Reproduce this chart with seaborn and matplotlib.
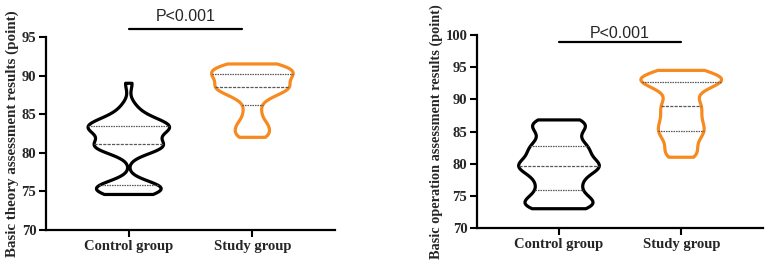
import pandas as pd
import matplotlib.pyplot as plt
import seaborn as sns

# scores (40 per group)
groups = ['Control group', 'Study group']

theory_control = [74.6, 74.8, 75.0, 75.2, 75.3, 75.4, 75.5, 75.6, 75.7, 75.7,
                  75.8, 80.2, 80.3, 80.5, 80.7, 80.9, 81.0, 80.9, 80.9, 80.9,
                  81.3, 81.8, 82.3, 82.6, 82.9, 83.0, 83.1, 83.2, 83.3, 83.4,
                  83.5, 83.6, 83.7, 83.9, 84.1, 84.4, 84.8, 85.4, 86.2, 89.0]
theory_study = [82.0, 82.1, 82.4, 82.8, 83.2, 83.5, 83.8, 84.3, 85.0, 85.6,
                86.4, 87.0, 87.3, 87.6, 87.8, 88.0, 88.2, 88.3, 88.4, 88.5,
                88.6, 88.8, 89.0, 89.2, 89.4, 89.6, 89.8, 89.9, 90.0, 90.1,
                90.3, 90.4, 90.6, 90.7, 90.9, 91.0, 91.1, 91.3, 91.4, 91.5]
oper_control = [73.0, 73.0, 73.2, 73.5, 73.8, 74.1, 74.3, 74.6, 75.0, 75.6,
                76.1, 76.6, 77.1, 77.6, 78.0, 78.5, 78.9, 79.2, 79.4, 79.5,
                79.7, 79.9, 80.2, 80.5, 80.9, 81.3, 81.7, 82.1, 82.4, 82.6,
                83.0, 83.5, 84.1, 84.8, 85.3, 85.7, 86.0, 86.4, 86.7, 86.8]
oper_study = [81.0, 81.2, 81.6, 82.1, 82.7, 83.3, 83.8, 84.3, 84.7, 85.0,
              85.2, 85.6, 86.0, 86.4, 86.8, 87.2, 87.6, 88.1, 88.6, 88.9,
              89.1, 89.6, 90.2, 90.8, 91.4, 91.8, 92.1, 92.4, 92.6, 92.7,
              92.8, 93.0, 93.2, 93.3, 93.4, 93.6, 93.8, 94.0, 94.3, 94.5]

theory_ticks = [70, 75, 80, 85, 90, 95]
oper_ticks = [70, 75, 80, 85, 90, 95, 100]
p_text = 'P<0.001'

colors = {'Control group': 'black', 'Study group': '#F7891F'}

def to_df(ctrl, study):
    return pd.DataFrame({'group': [groups[0]] * len(ctrl) + [groups[1]] * len(study),
                         'score': ctrl + study})

sns.set_style('ticks')
fig = plt.figure(figsize=(7.67, 2.63), dpi=100)
ax1 = fig.add_axes([0.060, 0.1255, 0.377, 0.734])
ax2 = fig.add_axes([0.622, 0.133, 0.373, 0.734])

panels = [
    (ax1, to_df(theory_control, theory_study), theory_ticks,
     'Basic theory assessment results (point)', 10.8, 96.0, 97.6, (0, 0.92)),
    (ax2, to_df(oper_control, oper_study), oper_ticks,
     'Basic operation assessment results (point)', 10.3, 98.9, 100.3, (0, 1.0)),
]

for ax, df, ticks, ylabel, ysize, bar_y, txt_y, bar_x in panels:
    sns.violinplot(data=df, x='group', y='score', hue='group', palette=colors,
                   fill=False, cut=0, bw_adjust=0.5, density_norm='width',
                   width=0.66, inner='quart', linewidth=2.3, legend=False,
                   inner_kws=dict(color='0.35', linewidth=0.9), ax=ax)
    ax.set_ylim(ticks[0], ticks[-1])
    ax.set_yticks(ticks)
    ax.set_xlim(-0.67, 1.67)
    ax.set_xlabel('')
    ax.set_ylabel(ylabel, family='Liberation Serif', weight='bold',
                  fontsize=ysize, labelpad=2)
    for lab in ax.get_xticklabels() + ax.get_yticklabels():
        lab.set_fontfamily('Liberation Serif')
        lab.set_fontweight('bold')
        lab.set_fontsize(10.5)
    ax.tick_params(width=1.5, length=5, color='black', pad=2)
    for s in ['left', 'bottom']:
        ax.spines[s].set_linewidth(1.6)
        ax.spines[s].set_color('black')
    sns.despine(ax=ax)
    ax.plot(bar_x, [bar_y, bar_y], color='black', lw=1.6, clip_on=False)
    ax.text(sum(bar_x) / 2, txt_y, p_text, ha='center', va='center',
            family='Liberation Sans', fontsize=11.5, clip_on=False)

fig.savefig('out.png', dpi=100)
